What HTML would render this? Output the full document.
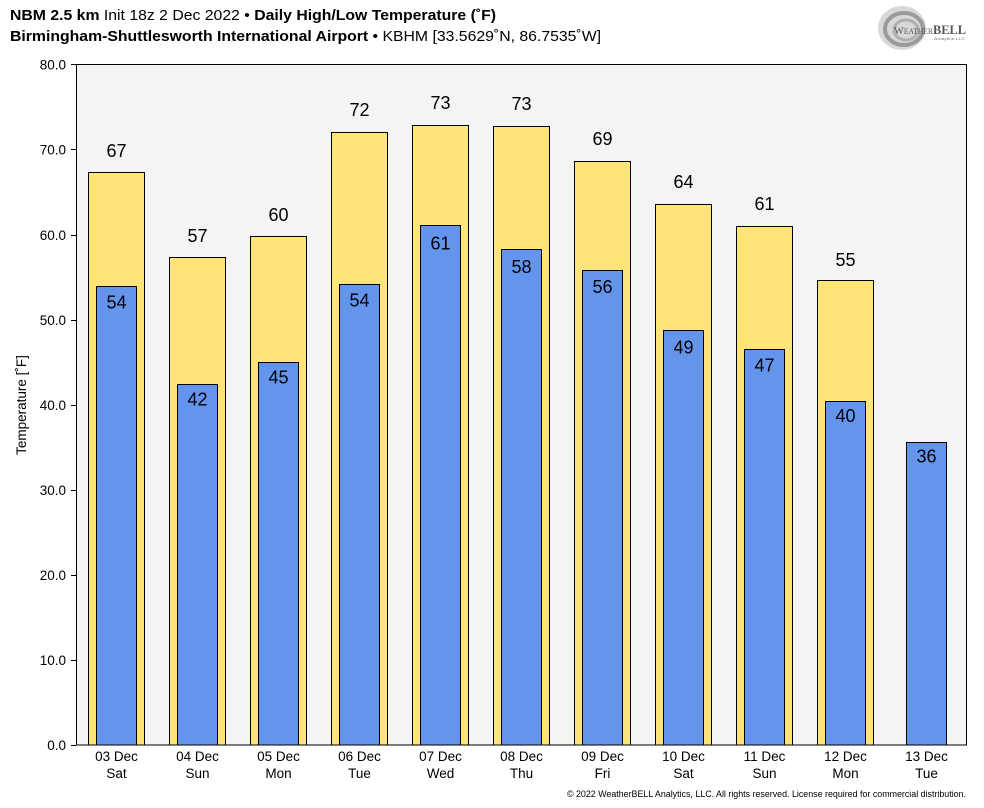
<!DOCTYPE html>
<html><head><meta charset="utf-8"><style>
html,body{margin:0;padding:0;background:#fff;}
svg{display:block;}
text{font-family:"Liberation Sans","DejaVu Sans",sans-serif;fill:#000;}
</style></head><body>
<svg width="984" height="808" viewBox="0 0 984 808" xmlns="http://www.w3.org/2000/svg">
<rect width="984" height="808" fill="#fff"/>
<!-- titles -->
<text x="10" y="20" font-size="14.5" textLength="486" lengthAdjust="spacingAndGlyphs"><tspan font-weight="bold">NBM 2.5 km</tspan> Init 18z 2 Dec 2022 • <tspan font-weight="bold">Daily High/Low Temperature (˚F)</tspan></text>
<text x="10" y="41" font-size="14.5" textLength="591" lengthAdjust="spacingAndGlyphs"><tspan font-weight="bold">Birmingham-Shuttlesworth International Airport</tspan> • KBHM [33.5629˚N, 86.7535˚W]</text>
<!-- logo -->
<g>
<ellipse cx="902" cy="28" rx="24" ry="22" fill="#d8d8d8"/>
<ellipse cx="904" cy="29" rx="19" ry="16" fill="none" stroke="#9a9a9a" stroke-width="4"/>
<ellipse cx="906" cy="30" rx="12" ry="10" fill="none" stroke="#b0b0b0" stroke-width="3"/>
<text x="894" y="34" font-size="11" font-family="Liberation Serif, serif" fill="#555" textLength="72" lengthAdjust="spacingAndGlyphs" style="fill:#555;font-family:'Liberation Serif',serif">W<tspan font-size="8">EATHER</tspan><tspan font-weight="bold" font-size="13">BELL</tspan></text>
<text x="934" y="40" font-size="4" style="fill:#777" textLength="31" lengthAdjust="spacingAndGlyphs">Analytics LLC</text>
</g>
<!-- plot background -->
<rect x="76.5" y="64.5" width="890" height="680.5" fill="#f4f4f4"/>
<!-- y ticks -->
<g stroke="#000" stroke-width="1">
<line x1="71" y1="64.5" x2="76" y2="64.5"/>
<line x1="71" y1="149.5" x2="76" y2="149.5"/>
<line x1="71" y1="235.5" x2="76" y2="235.5"/>
<line x1="71" y1="320.5" x2="76" y2="320.5"/>
<line x1="71" y1="405.5" x2="76" y2="405.5"/>
<line x1="71" y1="490.5" x2="76" y2="490.5"/>
<line x1="71" y1="575.5" x2="76" y2="575.5"/>
<line x1="71" y1="660.5" x2="76" y2="660.5"/>
<line x1="71" y1="745.5" x2="76" y2="745.5"/>
</g>
<g font-size="13.5" text-anchor="end">
<text x="66" y="69.5">80.0</text>
<text x="66" y="154.5">70.0</text>
<text x="66" y="240">60.0</text>
<text x="66" y="325">50.0</text>
<text x="66" y="410">40.0</text>
<text x="66" y="495">30.0</text>
<text x="66" y="580">20.0</text>
<text x="66" y="665">10.0</text>
<text x="66" y="750">0.0</text>
</g>
<text transform="translate(26,405) rotate(-90)" font-size="13.5" text-anchor="middle">Temperature [˚F]</text>
<!-- bars -->
<g stroke="#000" stroke-width="1" fill="#ffe47a">
<rect x="88.5" y="172.5" width="56" height="572.5"/>
<rect x="169.5" y="257.5" width="56" height="487.5"/>
<rect x="250.5" y="236.5" width="56" height="508.5"/>
<rect x="331.5" y="132.5" width="56" height="612.5"/>
<rect x="412.5" y="125.5" width="56" height="619.5"/>
<rect x="493.5" y="126.5" width="56" height="618.5"/>
<rect x="574.5" y="161.5" width="56" height="583.5"/>
<rect x="655.5" y="204.5" width="56" height="540.5"/>
<rect x="736.5" y="226.5" width="56" height="518.5"/>
<rect x="817.5" y="280.5" width="56" height="464.5"/>
</g>
<g stroke="#000" stroke-width="1" fill="#6495ed">
<rect x="96.5" y="286.5" width="40" height="458.5"/>
<rect x="177.5" y="384.5" width="40" height="360.5"/>
<rect x="258.5" y="362.5" width="40" height="382.5"/>
<rect x="339.5" y="284.5" width="40" height="460.5"/>
<rect x="420.5" y="225.5" width="40" height="519.5"/>
<rect x="501.5" y="249.5" width="40" height="495.5"/>
<rect x="582.5" y="270.5" width="40" height="474.5"/>
<rect x="663.5" y="330.5" width="40" height="414.5"/>
<rect x="744.5" y="349.5" width="40" height="395.5"/>
<rect x="825.5" y="401.5" width="40" height="343.5"/>
<rect x="906.5" y="442.5" width="40" height="302.5"/>
</g>
<!-- axes frame -->
<rect x="76.5" y="64.5" width="890" height="680.5" fill="none" stroke="#000" stroke-width="1"/>
<!-- high labels -->
<g font-size="18" text-anchor="middle">
<text x="116.5" y="157">67</text>
<text x="197.5" y="242">57</text>
<text x="278.5" y="221">60</text>
<text x="359.5" y="116">72</text>
<text x="440.5" y="109">73</text>
<text x="521.5" y="110">73</text>
<text x="602.5" y="145">69</text>
<text x="683.5" y="188">64</text>
<text x="764.5" y="210">61</text>
<text x="845.5" y="266">55</text>
</g>
<!-- low labels -->
<g font-size="18" text-anchor="middle">
<text x="116.5" y="308.5">54</text>
<text x="197.5" y="405.5">42</text>
<text x="278.5" y="383.5">45</text>
<text x="359.5" y="306.5">54</text>
<text x="440.5" y="249.5">61</text>
<text x="521.5" y="273">58</text>
<text x="602.5" y="293">56</text>
<text x="683.5" y="353.5">49</text>
<text x="764.5" y="371.5">47</text>
<text x="845.5" y="422">40</text>
<text x="926.5" y="462.5">36</text>
</g>
<!-- x labels -->
<g font-size="13.5" text-anchor="middle">
<text x="116.5" y="761">03 Dec</text><text x="116.5" y="778">Sat</text>
<text x="197.5" y="761">04 Dec</text><text x="197.5" y="778">Sun</text>
<text x="278.5" y="761">05 Dec</text><text x="278.5" y="778">Mon</text>
<text x="359.5" y="761">06 Dec</text><text x="359.5" y="778">Tue</text>
<text x="440.5" y="761">07 Dec</text><text x="440.5" y="778">Wed</text>
<text x="521.5" y="761">08 Dec</text><text x="521.5" y="778">Thu</text>
<text x="602.5" y="761">09 Dec</text><text x="602.5" y="778">Fri</text>
<text x="683.5" y="761">10 Dec</text><text x="683.5" y="778">Sat</text>
<text x="764.5" y="761">11 Dec</text><text x="764.5" y="778">Sun</text>
<text x="845.5" y="761">12 Dec</text><text x="845.5" y="778">Mon</text>
<text x="926.5" y="761">13 Dec</text><text x="926.5" y="778">Tue</text>
</g>
<text x="567" y="797" font-size="9" textLength="399" lengthAdjust="spacingAndGlyphs">© 2022 WeatherBELL Analytics, LLC. All rights reserved. License required for commercial distribution.</text>
</svg>
</body></html>
